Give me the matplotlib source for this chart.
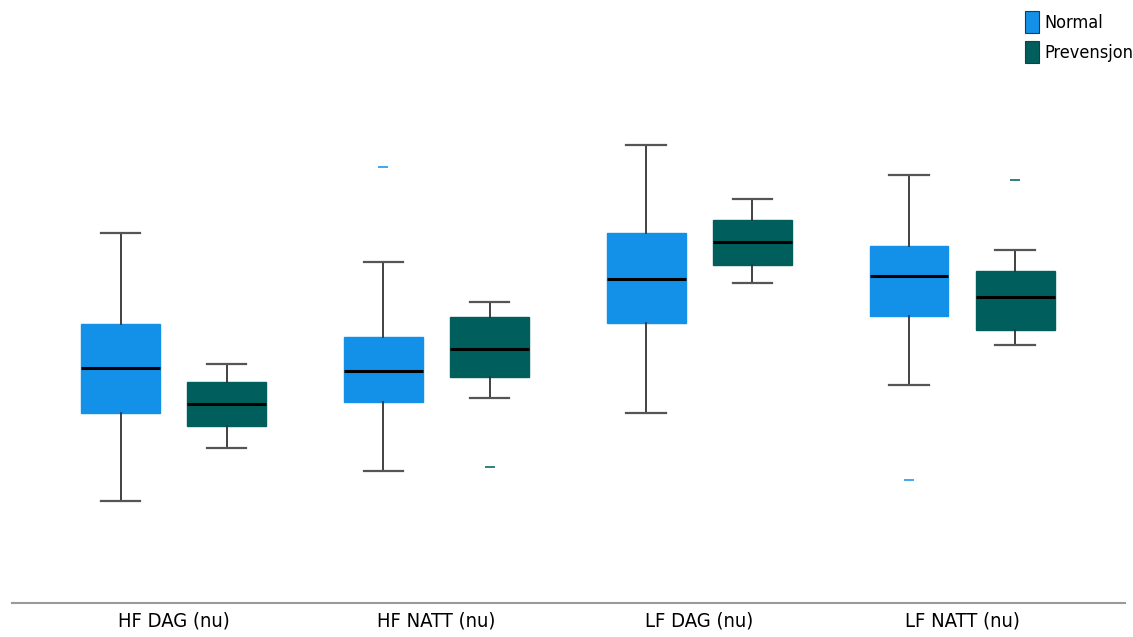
import matplotlib
matplotlib.use("Agg")
import matplotlib.pyplot as plt
from matplotlib.patches import Patch

categories = ["HF DAG (nu)", "HF NATT (nu)", "LF DAG (nu)", "LF NATT (nu)"]
series = ["Normal", "Prevensjon"]
colors = {"Normal": "#1390E8", "Prevensjon": "#005F5C"}

# five-number summaries: whisker low, Q1, median, Q3, whisker high
normal_stats = [
    (17.0, 31.7, 39.2, 46.5, 61.7),
    (22.0, 33.5, 38.7, 44.4, 56.8),
    (31.7, 46.7, 54.0, 61.7, 76.3),
    (36.3, 47.8, 54.5, 59.5, 71.3),
]
prev_stats = [
    (25.8, 29.5, 33.2, 36.8, 39.8),
    (34.2, 37.7, 42.3, 47.7, 50.2),
    (53.3, 56.3, 60.2, 63.8, 67.3),
    (43.0, 45.5, 51.0, 55.3, 58.8),
]
normal_outliers = [[], [72.7], [], [20.5]]
prev_outliers = [[], [22.7], [], [70.5]]

fig = plt.figure(figsize=(11.33, 6.37), dpi=100)
ax = fig.add_axes([0.0106, 0.0534, 0.9823, 0.9466])

def make_stats(stats, outs):
    res = []
    for (lo, q1, med, q3, hi), fl in zip(stats, outs):
        res.append(dict(whislo=lo, q1=q1, med=med, q3=q3, whishi=hi, fliers=fl))
    return res

offset = 0.202
width = 0.30
for name, stats, outs, sign in [("Normal", normal_stats, normal_outliers, -1),
                                 ("Prevensjon", prev_stats, prev_outliers, 1)]:
    col = colors[name]
    pos = [i + sign * offset for i in range(len(categories))]
    ax.bxp(make_stats(stats, outs), positions=pos, widths=width, patch_artist=True,
           boxprops=dict(facecolor=col, edgecolor=col, linewidth=1),
           medianprops=dict(color="black", linewidth=2.2),
           whiskerprops=dict(color="#333333", linewidth=1.3),
           capprops=dict(color="#555555", linewidth=1.6),
           capwidths=0.15,
           flierprops=dict(marker="_", markersize=7, markeredgecolor=col,
                           markeredgewidth=1.4, alpha=0.8, linestyle="none"),
           manage_ticks=False)

ax.set_xlim(-0.615, 3.62)
ax.set_ylim(0, 100.5)
ax.set_xticks(range(len(categories)))
ax.set_xticklabels(categories, fontsize=14.5, family="DejaVu Sans", fontstretch="condensed")
ax.tick_params(axis="x", length=0, pad=6)
ax.set_yticks([])
for s in ["top", "left", "right"]:
    ax.spines[s].set_visible(False)
ax.spines["bottom"].set_color("#999999")
ax.spines["bottom"].set_linewidth(1.5)

handles = [Patch(facecolor=colors[s], edgecolor="#333333", linewidth=0.8, label=s) for s in series]
ax.legend(handles=handles, loc="upper left", bbox_to_anchor=(1025 / 1133, 1 - 11 / 637),
          bbox_transform=fig.transFigure, frameon=False,
          handlelength=0.8, handleheight=1.5, handletextpad=0.3, labelspacing=0.45,
          borderaxespad=0, borderpad=0,
          prop=dict(family="DejaVu Sans", stretch="condensed", size=13))

fig.savefig("out.png", dpi=100)
